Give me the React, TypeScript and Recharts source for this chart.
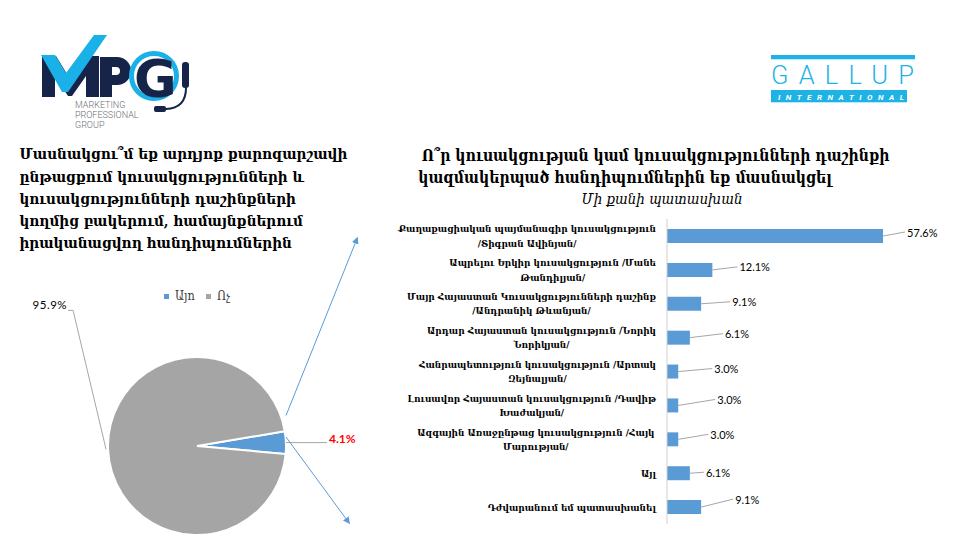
import React from 'react';
import { PieChart, Pie, Cell, Legend, BarChart, Bar, XAxis, YAxis, LabelList } from 'recharts';

// ---------- data ----------
const pieNames = ['Այո', 'Ոչ'];
const pieValues = [4.1, 95.9];
const pieColors = ['#5b9bd5', '#a5a5a5'];

const barCategories = [
  'Քաղաքացիական պայմանագիր կուսակցություն\n/Տիգրան Ավինյան/',
  'Ապրելու Երկիր կուսակցություն /Մանե\nԹանդիլյան/',
  'Մայր Հայաստան Կուսակցությունների դաշինք\n/Անդրանիկ Թևանյան/',
  'Արդար Հայաստան կուսակցություն /Նորիկ\nՆորիկյան/',
  'Հանրապետություն կուսակցություն /Արտակ\nԶեյնալյան/',
  'Լուսավոր Հայաստան կուսակցություն /Դավիթ\nԽաժակյան/',
  'Ազգային Առաջընթաց կուսակցություն  /Հայկ\nՄարության/',
  'Այլ',
  'Դժվարանում եմ պատասխանել',
];
const barValues = [57.6, 12.1, 9.1, 6.1, 3.0, 3.0, 3.0, 6.1, 9.1];

const leftTitleLines = [
  'Մասնակցու՞մ եք արդյոք քարոզարշավի',
  'ընթացքում կուսակցությունների և',
  'կուսակցությունների դաշինքների',
  'կողմից բակերում, համայնքներում',
  'իրականացվող հանդիպումներին',
];
const rightTitleLines = [
  'Ո՞ր կուսակցության կամ կուսակցությունների դաշինքի',
  'կազմակերպած հանդիպումներին եք մասնակցել',
];
const rightSubtitle = 'Մի քանի պատասխան';

// label placement (style only): [dx, dy] offsets of each bar's data label
const barLabelNudges = [
  [24, -4], [27, -3], [31, -2], [35, -4], [36, -3], [39, -6], [32, -5], [16, -1], [34, -8],
];

const pieData = pieNames.map((name, i) => ({ name, value: pieValues[i] }));
const barData = barCategories.map((cat, i) => ({ cat, value: barValues[i] }));

// ---------- helpers ----------
const BLUE = '#5b9bd5';
const SERIF_FAMILY = "'DejaVu Serif Condensed', 'DejaVu Serif'";
const SERIF = `${SERIF_FAMILY}, serif`;
const LABEL_FONT = "Lato, 'Open Sans', sans-serif";
const CAT_LINE_H = 14.5;

let measureCtx: CanvasRenderingContext2D | null = null;
function measure(text: string, font: string): number {
  if (!measureCtx) {
    const c = document.createElement('canvas');
    measureCtx = c.getContext('2d');
  }
  if (!measureCtx) return text.length * 6;
  measureCtx.font = font;
  return measureCtx.measureText(text).width;
}

// pick a font size so that a reference line spans the width it has in the original
function fitSize(text: string, target: number, weight: string, style = 'normal'): number {
  const base = 20;
  const w = measure(text, `${style} ${weight} ${base}px ${SERIF_FAMILY}`);
  if (!w) return 14;
  return (base * target) / w;
}

let catSizeCache = 0;
function catFontSize() {
  if (!catSizeCache) catSizeCache = fitSize(barCategories[0].split('\n')[0], 258, 'bold');
  return catSizeCache;
}

const CategoryTick = (props: any) => {
  const { x, y, payload } = props;
  const size = catFontSize();
  const lines: string[] = String(payload.value).split('\n');
  const font = `normal bold ${size}px ${SERIF_FAMILY}`;
  const maxW = Math.max(...lines.map((l) => measure(l, font)));
  const centerX = x - maxW / 2;
  const y0 = y - ((lines.length - 1) * CAT_LINE_H) / 2;
  return (
    <g>
      {lines.map((l, i) => (
        <text
          key={i}
          x={centerX}
          y={y0 + i * CAT_LINE_H}
          textAnchor="middle"
          dominantBaseline="central"
          fontFamily={SERIF}
          fontWeight="bold"
          fontSize={size}
          fill="#000"
        >
          {l}
        </text>
      ))}
    </g>
  );
};

const BarValueLabel = (props: any) => {
  const { x, y, width, height, value, index } = props;
  const nudge = barLabelNudges[index] || [25, -4];
  const endX = x + width;
  const cy = y + height / 2;
  const lx = endX + nudge[0];
  const ly = cy + nudge[1];
  return (
    <g>
      <line x1={endX} y1={cy} x2={lx - 2} y2={ly} stroke="#a6a6a6" strokeWidth={1} />
      <text
        x={lx}
        y={ly}
        dominantBaseline="central"
        fontFamily={LABEL_FONT}
        fontSize={11}
        fill="#000"
      >
        {`${Number(value).toFixed(1)}%`}
      </text>
    </g>
  );
};

const RAD = Math.PI / 180;
const PieLabel = (props: any) => {
  const { cx, cy, midAngle, outerRadius, index, value } = props;
  const ex = cx + outerRadius * Math.cos(-midAngle * RAD);
  const ey = cy + outerRadius * Math.sin(-midAngle * RAD);
  if (index === 0) {
    return (
      <g>
        <line x1={ex} y1={ey} x2={ex + 41} y2={ey} stroke="#a6a6a6" strokeWidth={1} />
        <text
          x={ex + 43}
          y={ey}
          fontFamily={LABEL_FONT}
          fontWeight="bold"
          fontSize={12}
          fill="#ff0000"
        >
          {`${value}%`}
        </text>
      </g>
    );
  }
  return (
    <g>
      <polyline
        points={`${ex - 2},${ey} ${ex - 35},${ey - 139} ${ex - 40},${ey - 139}`}
        fill="none"
        stroke="#a6a6a6"
        strokeWidth={1}
      />
      <text
        x={ex - 41}
        y={ey - 140.5}
        textAnchor="end"
        fontFamily={LABEL_FONT}
        fontSize={11.5}
        letterSpacing={0.5}
        fill="#000"
      >
        {`${value}%`}
      </text>
    </g>
  );
};

const PieLegend = () => (
  <div
    style={{
      display: 'flex',
      justifyContent: 'center',
      paddingLeft: 14,
      fontFamily: SERIF,
      fontSize: 12.5,
      color: '#404040',
      lineHeight: '16px',
    }}
  >
    {pieNames.map((n, i) => (
      <span key={n} style={{ display: 'flex', alignItems: 'center', marginRight: i === 0 ? 11 : 0 }}>
        <span style={{ width: 5, height: 5, background: pieColors[i], marginRight: 6, display: 'inline-block' }} />
        {n}
      </span>
    ))}
  </div>
);

const Logos = () => (
  <g>
    {/* MPG logo */}
    <polygon
      points="42,97 42,56 56,56 70,79 84,56 99,56 99,97 86,97 86,76 72,96 68,96 55,76 55,97"
      fill="#17244a"
    />
    <polygon points="41,55 55,55 66,73 94,35 107,35 68,92 62,92" fill="#1ab0e8" />
    <path
      d="M100 57 H117 A14 14 0 0 1 117 85 H112 V97 H100 Z M112 67 H116 A4 4 0 0 1 116 75 H112 Z"
      fill="#17244a"
      fillRule="evenodd"
    />
    <circle cx={154} cy={76} r={22.5} fill="none" stroke="#1ab0e8" strokeWidth={5} />
    <text x={134} y={97} fontFamily="'DejaVu Sans', sans-serif" fontWeight="bold" fontSize={52} fill="#17244a">
      G
    </text>
    <rect x={182} y={62} width={7} height={26} rx={3} fill="#17244a" />
    <path d="M186 88 Q186 108 166 109" fill="none" stroke="#17244a" strokeWidth={2} />
    <rect x={154} y={106} width={12} height={6} rx={2} fill="#17244a" />
    <text x={75} y={108.3} fontFamily="Roboto, sans-serif" fontWeight={300} fontSize={9} fill="#6d6e71">
      MARKETING
    </text>
    <text x={75} y={118.3} fontFamily="Roboto, sans-serif" fontWeight={300} fontSize={9} fill="#6d6e71">
      PROFESSIONAL
    </text>
    <text x={75} y={128.3} fontFamily="Roboto, sans-serif" fontWeight={300} fontSize={9} fill="#6d6e71">
      GROUP
    </text>

    {/* Gallup logo */}
    <rect x={771} y={55} width={144} height={4.3} fill="#1fb3e5" />
    <text
      x={771}
      y={84.3}
      fontFamily="Roboto, 'Open Sans', sans-serif"
      fontWeight={300}
      fontSize={25.5}
      fill="#1fb3e5"
      textLength={143}
      lengthAdjust="spacing"
    >
      GALLUP
    </text>
    <rect x={771} y={90} width={136} height={12.3} fill="#1fb3e5" />
    <text
      x={778}
      y={99.8}
      fontFamily="Roboto, 'Open Sans', sans-serif"
      fontWeight="bold"
      fontStyle="italic"
      fontSize={8}
      fill="#fff"
      textLength={126}
      lengthAdjust="spacing"
    >
      INTERNATIONAL
    </text>
  </g>
);

const Titles = () => {
  const leftSize = fitSize(leftTitleLines[0], 328, 'bold');
  const rightSize = fitSize(rightTitleLines[1], 414, 'bold');
  const subSize = fitSize(rightSubtitle, 161, 'normal', 'italic');
  return (
    <g>
      {leftTitleLines.map((l, i) => (
        <text
          key={i}
          x={19.5}
          y={159.3 + i * 22.25}
          fontFamily={SERIF}
          fontWeight="bold"
          fontSize={leftSize}
          fill="#000"
        >
          {l}
        </text>
      ))}
      <text x={421.7} y={161} fontFamily={SERIF} fontWeight="bold" fontSize={rightSize} fill="#000">
        {rightTitleLines[0]}
      </text>
      <text x={418.3} y={183} fontFamily={SERIF} fontWeight="bold" fontSize={rightSize} fill="#000">
        {rightTitleLines[1]}
      </text>
      <text x={662} y={204} textAnchor="middle" fontFamily={SERIF} fontStyle="italic" fontSize={subSize} fill="#000">
        {rightSubtitle}
      </text>
    </g>
  );
};

const Arrows = () => (
  <g>
    <defs>
      <marker id="arrowHead" viewBox="0 0 10 10" refX="9" refY="5" markerWidth="7" markerHeight="7" orient="auto-start-reverse">
        <path d="M0 0 L10 5 L0 10 z" fill={BLUE} />
      </marker>
    </defs>
    <line x1={286} y1={415.5} x2={357.5} y2={237.5} stroke={BLUE} strokeWidth={1} markerEnd="url(#arrowHead)" />
    <line x1={286} y1={437} x2={349.5} y2={523.5} stroke={BLUE} strokeWidth={1} markerEnd="url(#arrowHead)" />
  </g>
);

export default function App() {
  return (
    <div
      style={{
        position: 'absolute',
        left: 0,
        top: 0,
        width: 960,
        height: 540,
        background: '#fff',
        overflow: 'hidden',
      }}
    >
      <svg width={960} height={540} style={{ position: 'absolute', left: 0, top: 0 }}>
        <Logos />
        <Titles />
      </svg>

      <div style={{ position: 'absolute', left: 0, top: 270 }}>
        <PieChart width={380} height={270} margin={{ top: 0, right: 0, bottom: 0, left: 0 }}>
          <Legend
            verticalAlign="top"
            content={<PieLegend />}
            wrapperStyle={{ top: 18, left: 0, width: 380 }}
          />
          <Pie
            data={pieData}
            dataKey="value"
            nameKey="name"
            cx={197}
            cy={160}
            outerRadius={89}
            startAngle={-5.2}
            endAngle={354.8}
            stroke="#fff"
            strokeWidth={2}
            label={PieLabel}
            labelLine={false}
            isAnimationActive={false}
          >
            {pieData.map((d, i) => (
              <Cell key={d.name} fill={pieColors[i]} />
            ))}
          </Pie>
        </PieChart>
      </div>

      <div style={{ position: 'absolute', left: 340, top: 200 }}>
        <BarChart
          width={620}
          height={340}
          data={barData}
          layout="vertical"
          margin={{ top: 19, right: 30.5, bottom: 16, left: 0 }}
        >
          <XAxis type="number" domain={[0, 70]} hide />
          <YAxis
            type="category"
            dataKey="cat"
            width={327}
            axisLine={{ stroke: '#d0d0d0' }}
            tickLine={false}
            tickSize={6}
            tickMargin={5}
            interval={0}
            tick={<CategoryTick />}
          />
          <Bar dataKey="value" fill={BLUE} barSize={14} isAnimationActive={false}>
            <LabelList dataKey="value" content={<BarValueLabel />} />
          </Bar>
        </BarChart>
      </div>

      <svg width={960} height={540} style={{ position: 'absolute', left: 0, top: 0, pointerEvents: 'none' }}>
        <Arrows />
      </svg>
    </div>
  );
}
